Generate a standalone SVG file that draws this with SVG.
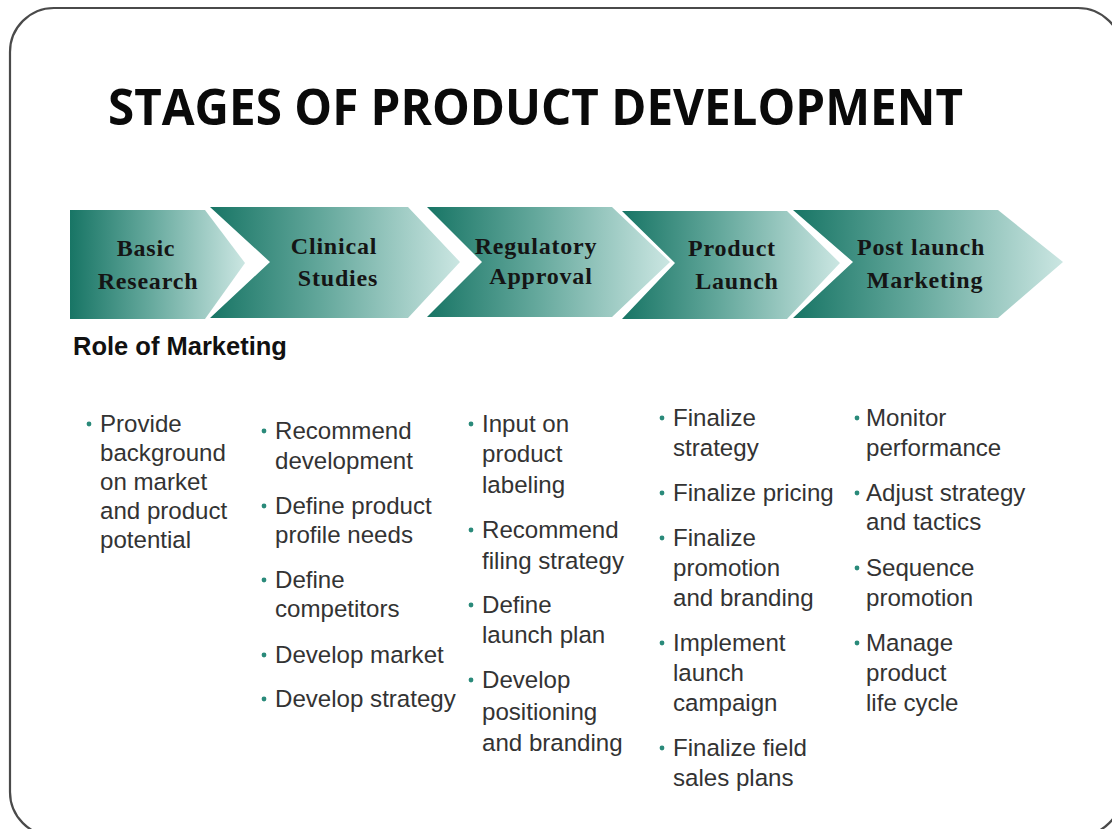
<svg xmlns="http://www.w3.org/2000/svg" width="1112" height="829" viewBox="0 0 1112 829">
  <defs>
    <linearGradient id="teal" x1="0" y1="0" x2="1" y2="0">
      <stop offset="0" stop-color="#187565"/>
      <stop offset="0.45" stop-color="#64a89c"/>
      <stop offset="1" stop-color="#cbe6e2"/>
    </linearGradient>
    <style>
      .frame { fill: #ffffff; stroke: #4a4a4a; stroke-width: 2.2; }
      .title { font-family: "Open Sans", "Liberation Sans", sans-serif; font-weight: 700; font-size: 51px; fill: #0a0a0a; }
      .chev { fill: url(#teal); }
      .stage { font-family: "Liberation Serif", "Times New Roman", serif; font-weight: 700; font-size: 24px; letter-spacing: 0.8px; fill: #151515; text-anchor: middle; }
      .role { font-family: "Liberation Sans", Arial, sans-serif; font-weight: 700; font-size: 25.5px; fill: #111111; }
      .item { font-family: "Liberation Sans", Arial, sans-serif; font-size: 24.1px; fill: #333333; }
      .dot { fill: #2a8a7a; }
    </style>
  </defs>

  <rect class="frame" x="10" y="8" width="1112" height="828" rx="44" ry="44"/>

  <text class="title" x="108" y="125" textLength="855" lengthAdjust="spacingAndGlyphs">STAGES OF PRODUCT DEVELOPMENT</text>

  <!-- stage chevrons -->
  <g id="stage-basic-research">
    <polygon class="chev" points="70,210 205,210 245,263 205,319 70,319"/>
    <text class="stage" x="146" y="256">Basic</text>
    <text class="stage" x="148" y="289">Research</text>
  </g>
  <g id="stage-clinical-studies">
    <polygon class="chev" points="210,207 408,207 460,262 408,318 210,318 270,262"/>
    <text class="stage" x="334" y="254">Clinical</text>
    <text class="stage" x="338" y="286">Studies</text>
  </g>
  <g id="stage-regulatory-approval">
    <polygon class="chev" points="427,207 612,207 670,262 612,317 427,317 482,262"/>
    <text class="stage" x="536" y="254">Regulatory</text>
    <text class="stage" x="541" y="284">Approval</text>
  </g>
  <g id="stage-product-launch">
    <polygon class="chev" points="622,211 787,211 840,263 787,319 622,319 675,263"/>
    <text class="stage" x="732" y="256">Product</text>
    <text class="stage" x="737" y="289">Launch</text>
  </g>
  <g id="stage-post-launch">
    <polygon class="chev" points="793,210 998,210 1063,262 998,318 793,318 853,262"/>
    <text class="stage" x="921" y="255">Post launch</text>
    <text class="stage" x="925" y="288">Marketing</text>
  </g>

  <g id="connectors"/>

  <text class="role" x="73" y="355">Role of Marketing</text>

  <!-- marketing roles per stage -->
  <g id="roles-basic-research">
    <circle class="dot" cx="89" cy="424" r="2.4"/>
    <text class="item" x="100" y="432">Provide</text>
    <text class="item" x="100" y="461">background</text>
    <text class="item" x="100" y="490">on market</text>
    <text class="item" x="100" y="519">and product</text>
    <text class="item" x="100" y="548">potential</text>
  </g>
  <g id="roles-clinical-studies">
    <circle class="dot" cx="264" cy="431" r="2.4"/>
    <text class="item" x="275" y="439">Recommend</text>
    <text class="item" x="275" y="469">development</text>
    <circle class="dot" cx="264" cy="506" r="2.4"/>
    <text class="item" x="275" y="514">Define product</text>
    <text class="item" x="275" y="543">profile needs</text>
    <circle class="dot" cx="264" cy="580" r="2.4"/>
    <text class="item" x="275" y="588">Define</text>
    <text class="item" x="275" y="617">competitors</text>
    <circle class="dot" cx="264" cy="655" r="2.4"/>
    <text class="item" x="275" y="663">Develop market</text>
    <circle class="dot" cx="264" cy="699" r="2.4"/>
    <text class="item" x="275" y="707">Develop strategy</text>
  </g>
  <g id="roles-regulatory-approval">
    <circle class="dot" cx="471" cy="424" r="2.4"/>
    <text class="item" x="482" y="432">Input on</text>
    <text class="item" x="482" y="462">product</text>
    <text class="item" x="482" y="493">labeling</text>
    <circle class="dot" cx="471" cy="530" r="2.4"/>
    <text class="item" x="482" y="538">Recommend</text>
    <text class="item" x="482" y="569">filing strategy</text>
    <circle class="dot" cx="471" cy="605" r="2.4"/>
    <text class="item" x="482" y="613">Define</text>
    <text class="item" x="482" y="643">launch plan</text>
    <circle class="dot" cx="471" cy="680" r="2.4"/>
    <text class="item" x="482" y="688">Develop</text>
    <text class="item" x="482" y="720">positioning</text>
    <text class="item" x="482" y="751">and branding</text>
  </g>
  <g id="roles-product-launch">
    <circle class="dot" cx="662" cy="418" r="2.4"/>
    <text class="item" x="673" y="426">Finalize</text>
    <text class="item" x="673" y="456">strategy</text>
    <circle class="dot" cx="662" cy="493" r="2.4"/>
    <text class="item" x="673" y="501">Finalize pricing</text>
    <circle class="dot" cx="662" cy="538" r="2.4"/>
    <text class="item" x="673" y="546">Finalize</text>
    <text class="item" x="673" y="576">promotion</text>
    <text class="item" x="673" y="606">and branding</text>
    <circle class="dot" cx="662" cy="643" r="2.4"/>
    <text class="item" x="673" y="651">Implement</text>
    <text class="item" x="673" y="681">launch</text>
    <text class="item" x="673" y="711">campaign</text>
    <circle class="dot" cx="662" cy="748" r="2.4"/>
    <text class="item" x="673" y="756">Finalize field</text>
    <text class="item" x="673" y="786">sales plans</text>
  </g>
  <g id="roles-post-launch">
    <circle class="dot" cx="857" cy="418" r="2.4"/>
    <text class="item" x="866" y="426">Monitor</text>
    <text class="item" x="866" y="456">performance</text>
    <circle class="dot" cx="857" cy="493" r="2.4"/>
    <text class="item" x="866" y="501">Adjust strategy</text>
    <text class="item" x="866" y="530">and tactics</text>
    <circle class="dot" cx="857" cy="568" r="2.4"/>
    <text class="item" x="866" y="576">Sequence</text>
    <text class="item" x="866" y="606">promotion</text>
    <circle class="dot" cx="857" cy="643" r="2.4"/>
    <text class="item" x="866" y="651">Manage</text>
    <text class="item" x="866" y="681">product</text>
    <text class="item" x="866" y="711">life cycle</text>
  </g>
</svg>
